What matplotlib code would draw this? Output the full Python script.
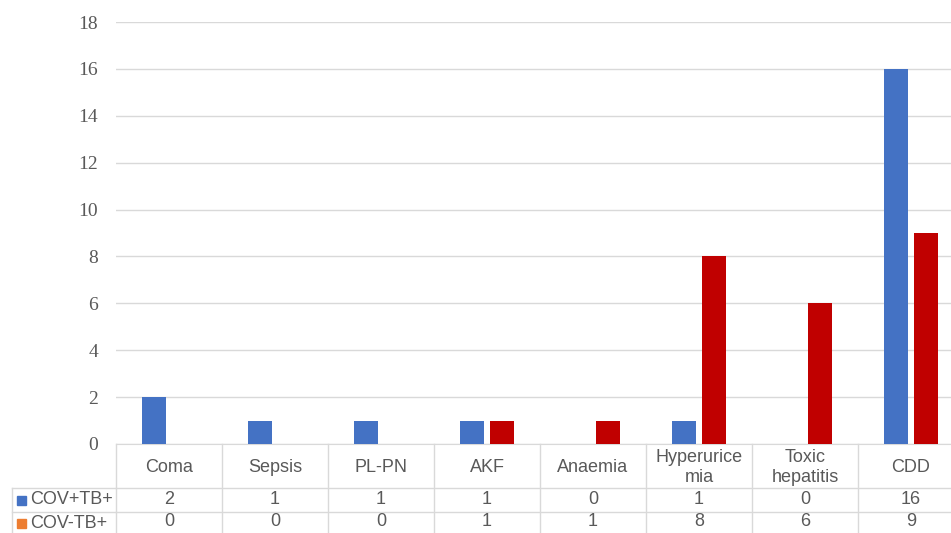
import numpy as np
import matplotlib
matplotlib.use('Agg')
import matplotlib.pyplot as plt
from matplotlib.transforms import blended_transform_factory

categories = ['Coma', 'Sepsis', 'PL-PN', 'AKF', 'Anaemia', 'Hyperurice\nmia', 'Toxic\nhepatitis', 'CDD']
cov_tb = [2, 1, 1, 1, 0, 1, 0, 16]
covneg_tb = [0, 0, 0, 1, 1, 8, 6, 9]
series_names = ['COV+TB+', 'COV-TB+']
bar_colors = ['#4472C4', '#C00000']
legend_colors = ['#4472C4', '#ED7D31']
yticks = np.arange(0, 19, 2)

W, H = 951, 533
fig = plt.figure(figsize=(W / 100, H / 100), dpi=100)
# axes runs a bit past the right edge, like the cropped original
x0, x1 = 116, 964
y0, y1 = 444, 22
ax = fig.add_axes([x0 / W, (H - y0) / H, (x1 - x0) / W, (y0 - y1) / H])

n = len(categories)
x = np.arange(n)
bw = 0.226
off = 0.142
ax.bar(x - off, cov_tb, bw, color=bar_colors[0], zorder=3)
ax.bar(x + off, covneg_tb, bw, color=bar_colors[1], zorder=3)

ax.set_xlim(-0.5, n - 0.5)
ax.set_ylim(0, 18)
ax.set_yticks(yticks)
ax.set_yticklabels([str(v) for v in yticks], family='Liberation Serif', fontsize=14, color='#595959')
ax.tick_params(axis='y', length=0, pad=13)
ax.set_xticks([])
ax.grid(axis='y', color='#D9D9D9', lw=1, zorder=0)
for s in ['top', 'right', 'left']:
    ax.spines[s].set_visible(False)
ax.spines['bottom'].set_color('#D9D9D9')

# data table under the axes
ph = 1.0 / (y0 - y1)  # one pixel in axes fraction
tr = blended_transform_factory(ax.transData, ax.transAxes)
line_c = '#D9D9D9'
tc = '#595959'
fs = 13
r_head = -44 * ph
r1 = -68 * ph
r2 = -92 * ph
for b in np.arange(-0.5, n, 1.0):
    ax.plot([b, b], [0, r2], transform=tr, color=line_c, lw=1, clip_on=False)
for yy in [r_head, r1]:
    ax.plot([-0.5, n - 0.5], [yy, yy], transform=tr, color=line_c, lw=1, clip_on=False)

# row label cells (figure pixel coords)
def fy(py):
    return (H - py) / H
lx0 = 12 / W
for py in [488, 512]:
    fig.add_artist(plt.Line2D([lx0, x0 / W], [fy(py), fy(py)], color=line_c, lw=1))
fig.add_artist(plt.Line2D([lx0, lx0], [fy(488), fy(540)], color=line_c, lw=1))

for i, c in enumerate(categories):
    ax.text(i, r_head / 2 - 1.5 * ph, c, transform=tr, ha='center', va='center',
            fontsize=fs, color=tc, family='Liberation Sans', linespacing=1.25)
    ax.text(i, (r_head + r1) / 2, str(cov_tb[i]), transform=tr, ha='center', va='center',
            fontsize=fs, color=tc, family='Liberation Sans')
    ax.text(i, (r1 + r2) / 2 + 2 * ph, str(covneg_tb[i]), transform=tr, ha='center', va='center',
            fontsize=fs, color=tc, family='Liberation Sans')

for k, (name, col) in enumerate(zip(series_names, legend_colors)):
    cy = [500, 523][k]
    fig.add_artist(plt.Rectangle((17 / W, fy(cy + 4.5)), 9 / W, 9 / H, color=col))
    fig.text(30 / W, fy(cy), name, ha='left', va='center', fontsize=fs,
             color=tc, family='Liberation Sans')

plt.savefig('out.png', dpi=100)
